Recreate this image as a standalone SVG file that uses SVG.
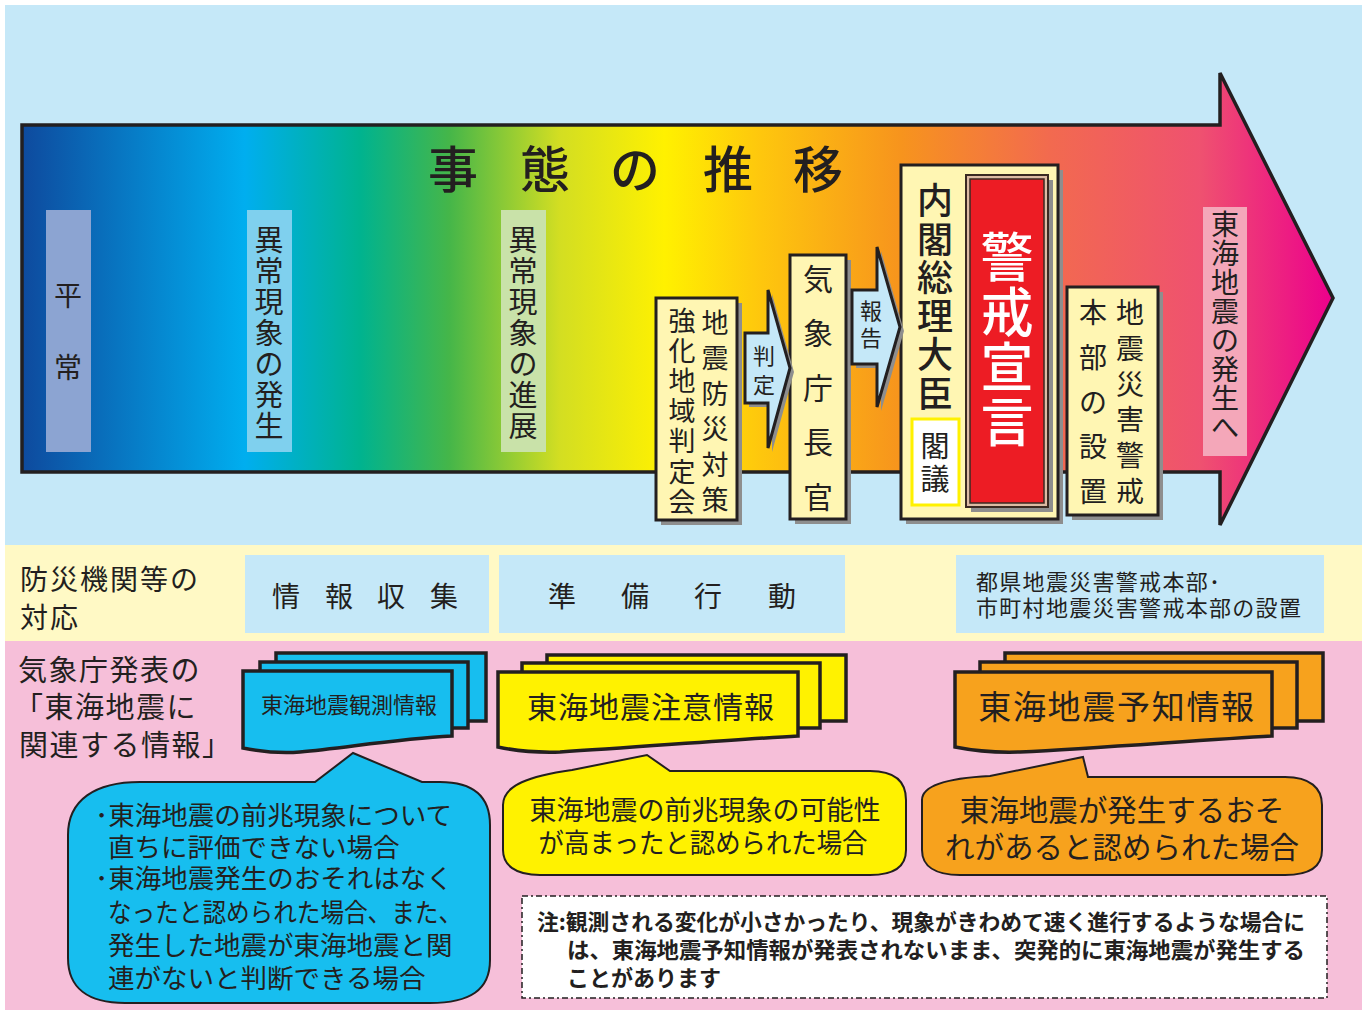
<svg xmlns="http://www.w3.org/2000/svg" width="1369" height="1010" viewBox="0 0 1369 1010">
<defs>
<linearGradient id="flow" gradientUnits="userSpaceOnUse" x1="22" y1="0" x2="1333" y2="0">
<stop offset="0" stop-color="#0E4A9E"/>
<stop offset="0.17" stop-color="#00AEEF"/>
<stop offset="0.258" stop-color="#00B38F"/>
<stop offset="0.326" stop-color="#45B649"/>
<stop offset="0.41" stop-color="#D3DE22"/>
<stop offset="0.49" stop-color="#FFF100"/>
<stop offset="0.563" stop-color="#FEC70D"/>
<stop offset="0.67" stop-color="#F7941D"/>
<stop offset="0.784" stop-color="#F26A4F"/>
<stop offset="0.899" stop-color="#EF5170"/>
<stop offset="1" stop-color="#EC008C"/>
</linearGradient>
<style>
.t{font-family:"Noto Sans CJK JP","Noto Sans",sans-serif;fill:#231F20}
.m{text-anchor:middle}
.box{fill:#FFF6B3;stroke:#231F20;stroke-width:3}
.sh{fill:#8E8E8E}
.conn{fill:#C5E8F8;stroke:#231F20;stroke-width:3;stroke-linejoin:miter}
.card{stroke:#231F20;stroke-width:3.5;stroke-linejoin:miter}
.bub{stroke:#231F20;stroke-width:2}
.lbl{fill:#C5E8F8}
</style>
</defs>

<g id="bands">
<rect x="5" y="5" width="1357" height="540" fill="#C5E8F8"/>
<rect x="5" y="545" width="1357" height="96" fill="#FFF9C5"/>
<rect x="5" y="641" width="1357" height="369" fill="#F6BFD9"/>
</g>

<g id="big-arrow">
<polygon points="22,125 1220,125 1220,73 1333,298 1220,525 1220,472 22,472" fill="url(#flow)" stroke="#231F20" stroke-width="3.5"/>
<text class="t" font-size="50" font-weight="500" x="453 545 635 728 818" y="188 188 188 188 188" text-anchor="middle">事態の推移</text>
</g>

<g id="node-heijo">
<rect x="46" y="210" width="45" height="242" fill="#8CA4D2"/>
<text class="t m" font-size="28" x="68 68" y="306 378">平常</text>
</g>

<g id="node-ijo-hassei">
<rect x="247" y="210" width="45" height="242" fill="#7FD0EE"/>
<text class="t m" font-size="29" x="269 269 269 269 269 269 269" y="251 282 313 344 375 406 437">異常現象の発生</text>
</g>

<g id="node-ijo-shinten">
<rect x="501" y="210" width="45" height="242" fill="#C9E2A9"/>
<text class="t m" font-size="29" x="523 523 523 523 523 523 523" y="251 282 313 344 375 406 437">異常現象の進展</text>
</g>

<g id="node-hanteikai">
<rect class="sh" x="661" y="303" width="81" height="222"/>
<rect class="box" x="656" y="298" width="81" height="222"/>
<text class="t m" font-size="27" x="715 715 715 715 715 715" y="333 368 404 439 475 510">地震防災対策</text>
<text class="t m" font-size="27" x="682 682 682 682 682 682 682" y="331 361 391 421 451 482 512">強化地域判定会</text>
</g>

<g id="node-kishocho">
<rect class="sh" x="795" y="260" width="56" height="264"/>
<rect class="box" x="790" y="255" width="56" height="264"/>
<text class="t m" font-size="30" x="818 818 818 818 818" y="290 344 399 453 508">気象庁長官</text>
</g>

<g id="node-naikaku">
<rect class="sh" x="906" y="170" width="157" height="354"/>
<rect class="box" x="901" y="165" width="157" height="354"/>
<text class="t m" font-size="36" font-weight="500" x="935 935 935 935 935 935" y="214 253 291 330 368 407">内閣総理大臣</text>
<rect x="912" y="419" width="47" height="86" fill="#FFFFFF" stroke="#FFF100" stroke-width="3"/>
<text class="t m" font-size="29" x="935 935" y="457 490">閣議</text>
</g>

<g id="node-keikai-sengen">
<rect class="sh" x="971" y="180" width="82" height="332"/>
<rect x="966" y="175" width="82" height="332" fill="#DDBBA4" stroke="#3A2A22" stroke-width="2"/>
<rect x="970" y="179" width="74" height="324" fill="#ED1C24" stroke="#3A2A22" stroke-width="1.5"/>
<text class="m" font-family="'Noto Sans CJK JP',sans-serif" font-size="53" font-weight="500" fill="#FFFFFF" x="1007 1007 1007 1007" y="277 332 387 442">警戒宣言</text>
</g>

<g id="node-honbu">
<rect class="sh" x="1072" y="292" width="91" height="228"/>
<rect class="box" x="1067" y="287" width="91" height="228"/>
<text class="t m" font-size="28" x="1130 1130 1130 1130 1130 1130" y="323 359 395 430 466 502">地震災害警戒</text>
<text class="t m" font-size="28" x="1093 1093 1093 1093 1093" y="323 368 413 457 502">本部の設置</text>
</g>

<g id="node-hassei-e">
<rect x="1203" y="207" width="44" height="249" fill="#F4A7B9"/>
<text class="t m" font-size="28" x="1225 1225 1225 1225 1225 1225 1225 1225" y="235 264 293 322 351 380 409 438">東海地震の発生へ</text>
</g>

<g id="connectors">
<polygon class="sh" points="749,337 772,337 772,294 794,372 772,452 772,407 749,407"/>
<polygon class="conn" points="745,333 768,333 768,290 790,368 768,448 768,403 745,403"/>
<text class="t m" font-size="22" x="764 764" y="364 393">判定</text>
<polygon class="sh" points="856,294 881,294 881,251 904,331 881,411 881,368 856,368"/>
<polygon class="conn" points="852,290 877,290 877,247 900,327 877,407 877,364 852,364"/>
<text class="t m" font-size="22" x="871 871" y="319 346">報告</text>
</g>

<g id="row-taiou">
<text class="t" font-size="28" letter-spacing="2"><tspan x="20" y="590">防災機関等の</tspan><tspan x="20" y="628">対応</tspan></text>
</g>

<g id="node-joho-shushu">
<rect class="lbl" x="245" y="555" width="244" height="78"/>
<text class="t m" font-size="28" x="286 339 391 444" y="607 607 607 607">情報収集</text>
</g>

<g id="node-junbi-kodo">
<rect class="lbl" x="499" y="555" width="346" height="78"/>
<text class="t m" font-size="28" x="562 635 708 782" y="607 607 607 607">準備行動</text>
</g>

<g id="node-honbu-setchi">
<rect class="lbl" x="956" y="555" width="368" height="78"/>
<text class="t" font-size="22" letter-spacing="1.3"><tspan x="976" y="590">都県地震災害警戒本部･</tspan><tspan x="976" y="616">市町村地震災害警戒本部の設置</tspan></text>
</g>

<g id="row-joho">
<text class="t" font-size="29" letter-spacing="1.5"><tspan x="18" y="681">気象庁発表の</tspan><tspan x="14" y="718">「東海地震に</tspan><tspan x="19" y="756">関連する情報」</tspan></text>
</g>

<g id="node-kansoku">
<rect class="card" x="276" y="653" width="210" height="68" fill="#17BEEF"/>
<rect class="card" x="260" y="662" width="208" height="66" fill="#17BEEF"/>
<path class="card" d="M243,671 H452 V736 C395,739 345,748 300,752 C275,754 258,751 243,748 Z" fill="#17BEEF"/>
<text class="t m" font-size="22" x="349" y="713">東海地震観測情報</text>
</g>

<g id="node-chui">
<rect class="card" x="547" y="655" width="299" height="66" fill="#FFF200"/>
<rect class="card" x="522" y="663" width="298" height="65" fill="#FFF200"/>
<path class="card" d="M498,672 H798 V736 C740,739 640,747 560,752 C530,753 512,750 498,747 Z" fill="#FFF200"/>
<text class="t m" font-size="30" letter-spacing="1" x="651" y="718">東海地震注意情報</text>
</g>

<g id="node-yochi">
<rect class="card" x="1005" y="653" width="318" height="68" fill="#F7A21D"/>
<rect class="card" x="980" y="662" width="317" height="66" fill="#F7A21D"/>
<path class="card" d="M955,672 H1272 V736 C1200,740 1100,748 1020,752 C990,753 970,750 955,747 Z" fill="#F7A21D"/>
<text class="t m" font-size="33" letter-spacing="1.7" x="1117" y="719">東海地震予知情報</text>
</g>

<g id="node-bubble-kansoku">
<path class="bub" fill="#17BEEF" d="M68,835 C68,800 95,782 140,782 L315,782 L353,753 L422,782 L440,782 C475,782 490,798 490,825 L490,960 C490,990 470,1003 430,1003 L125,1003 C88,1003 68,988 68,958 Z"/>
<text class="t" font-size="26.5"><tspan x="95" y="825">･東海地震の前兆現象について</tspan><tspan x="108" y="857">直ちに評価できない場合</tspan><tspan x="95" y="888">･東海地震発生のおそれはなく</tspan><tspan x="108" y="922" textLength="354" lengthAdjust="spacingAndGlyphs">なったと認められた場合、また、</tspan><tspan x="108" y="955">発生した地震が東海地震と関</tspan><tspan x="108" y="988">連がないと判断できる場合</tspan></text>
</g>

<g id="node-bubble-chui">
<path class="bub" fill="#FFF200" d="M503,805 C503,785 530,776 572,770 L647,755 L670,771 L870,771 C895,771 906,782 906,800 L906,850 C906,868 892,875 870,875 L540,875 C515,875 503,865 503,850 Z"/>
<text class="t m" font-size="27"><tspan x="705" y="820">東海地震の前兆現象の可能性</tspan><tspan x="703" y="853" textLength="329" lengthAdjust="spacingAndGlyphs">が高まったと認められた場合</tspan></text>
</g>

<g id="node-bubble-yochi">
<path class="bub" fill="#F7A21D" d="M922,800 C922,785 950,778 990,776 L1083,757 L1088,777 L1285,777 C1310,777 1322,788 1322,805 L1322,850 C1322,868 1308,875 1285,875 L960,875 C935,875 922,866 922,850 Z"/>
<text class="t m" font-size="29.5"><tspan x="1122" y="821">東海地震が発生するおそ</tspan><tspan x="1122" y="858">れがあると認められた場合</tspan></text>
</g>

<g id="node-note">
<rect x="522" y="896" width="805" height="102" fill="#FFFFFF" stroke="#231F20" stroke-width="1.5" stroke-dasharray="6 3 2 3"/>
<text class="t" font-size="22" font-weight="700"><tspan x="537" y="930" textLength="768" lengthAdjust="spacingAndGlyphs">注:観測される変化が小さかったり、現象がきわめて速く進行するような場合に</tspan><tspan x="567" y="958" textLength="738" lengthAdjust="spacingAndGlyphs">は、東海地震予知情報が発表されないまま、突発的に東海地震が発生する</tspan><tspan x="567" y="986">ことがあります</tspan></text>
</g>
</svg>
